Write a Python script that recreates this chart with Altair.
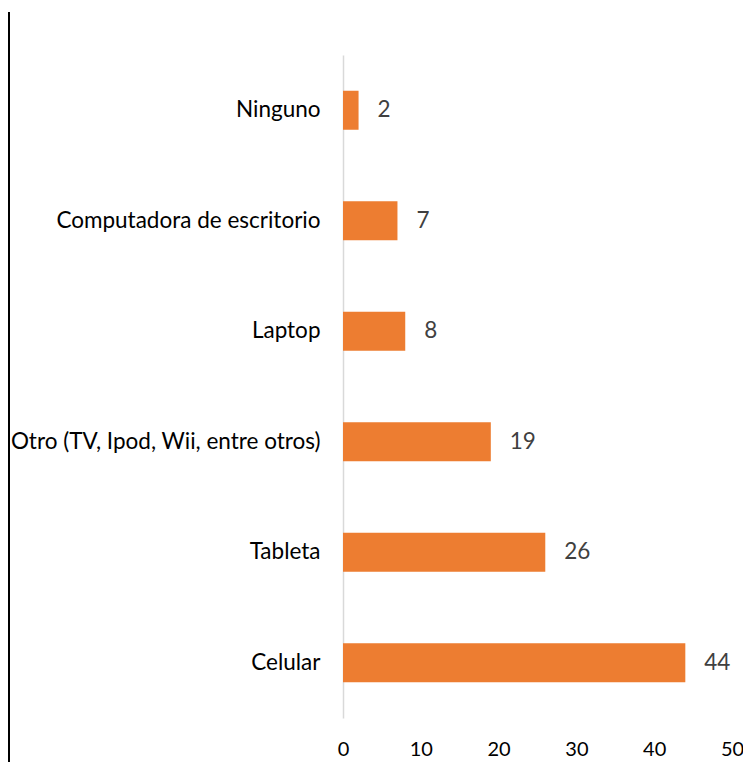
import altair as alt
import pandas as pd

categories = ["Ninguno", "Computadora de escritorio", "Laptop",
              "Otro (TV, Ipod, Wii, entre otros)", "Tableta", "Celular"]
values = [2, 7, 8, 19, 26, 44]
x_ticks = [0, 10, 20, 30, 40, 50]

df = pd.DataFrame({"cat": categories, "val": values})

FONT = "Lato"
FS = 22.5

y_enc = alt.Y("cat:N", sort=categories, title=None,
              scale=alt.Scale(paddingInner=0.647, paddingOuter=0.3235),
              axis=alt.Axis(labelFont=FONT, labelFontSize=FS, labelColor="#000000",
                            labelFontWeight="normal",
                            labelPadding=23, ticks=False, domain=True,
                            domainColor="#d9d9d9", domainWidth=1.5, grid=False,
                            labelLimit=400))
x_enc = alt.X("val:Q", title=None,
              scale=alt.Scale(domain=[0, 50], nice=False),
              axis=alt.Axis(values=x_ticks, labelFont=FONT, labelFontSize=20,
                            labelFontWeight="normal", labelFlush=False,
                            labelColor="#000000", labelPadding=21, ticks=False,
                            domain=False, grid=False))

bars = alt.Chart(df).mark_bar(color="#ED7D31").encode(x=x_enc, y=y_enc)

labels = alt.Chart(df).mark_text(align="left", baseline="middle", dx=19,
                                 font=FONT, fontSize=FS, color="#404040").encode(
    x="val:Q", y=alt.Y("cat:N", sort=categories), text="val:Q")

border = alt.Chart(df).mark_rule(color="#000000", strokeWidth=2).encode(
    x=alt.value(-334), y=alt.value(-43), y2=alt.value(750))

chart = alt.layer(border, bars, labels).properties(
    width=389, height=663,
    autosize=alt.AutoSizeParams(type="none"),
    padding={"left": 335, "top": 47, "right": 11, "bottom": 44},
).configure_view(stroke=None)

chart.save("out.html", embed_options={"renderer": "svg", "actions": False})
